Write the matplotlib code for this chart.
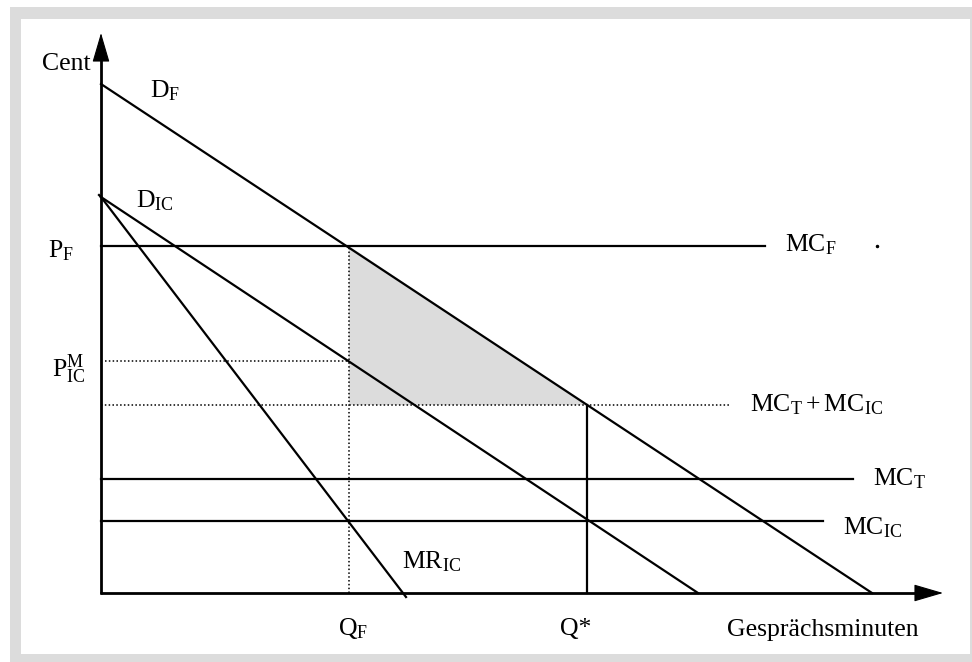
import matplotlib.pyplot as plt
from matplotlib.patches import Rectangle, Polygon

plt.rcParams['font.family'] = ['Liberation Serif', 'DejaVu Serif']
plt.rcParams['mathtext.fontset'] = 'custom'
plt.rcParams['mathtext.rm'] = 'Liberation Serif'
plt.rcParams['mathtext.it'] = 'Liberation Serif:italic'

# curves: (quantity, price) end points in chart units (origin = axes corner)
demand_f = ([0, 771], [509, 0])
demand_ic = ([0, 597], [396, 0])
mr_ic = ([0, 305], [396, -4])

# price levels
p_f = 347
p_ic_m = 232
mc_t_ic = 188
mc_t = 114
mc_ic = 72

# quantities
q_f = 248
q_star = 486

# horizontal extent of each level line
p_f_end = 664
p_ic_m_range = (4, q_f)
mc_t_ic_end = 628
mc_t_end = 752
mc_ic_end = 722

# axis lengths
y_top = 560
x_right = 842

W, H = 972, 662
fig = plt.figure(figsize=(W / 100, H / 100), dpi=100)
fig.patch.set_facecolor('white')

# grey frame around the drawing
fig.patches.append(Rectangle((10 / W, 0), 962 / W, 655 / H, transform=fig.transFigure,
                             facecolor='#dcdcdc', edgecolor='none', zorder=-10))
fig.patches.append(Rectangle((21 / W, 8 / H), 949 / W, 635 / H, transform=fig.transFigure,
                             facecolor='white', edgecolor='none', zorder=-9))

ax = fig.add_axes([0, 0, 1, 1])
ax.set_zorder(1)
ax.set_xlim(-101, W - 101)
ax.set_ylim(593 - H, 593)
ax.axis('off')
ax.patch.set_alpha(0)

# shaded welfare triangle
ax.add_patch(Polygon([(q_f, p_f), (q_f, mc_t_ic), (q_star, mc_t_ic)],
                     closed=True, facecolor='#dcdcdc', edgecolor='none', zorder=1))

lw = 1.6
ax.plot(*demand_f, color='black', lw=lw, zorder=3)
ax.plot(*demand_ic, color='black', lw=lw, zorder=3)
ax.plot(*mr_ic, color='black', lw=lw, zorder=3)
ax.plot([-2, 0], [398, 396], color='black', lw=lw, zorder=3)

ax.plot([0, p_f_end], [p_f, p_f], color='black', lw=lw, zorder=3)
ax.plot([0, mc_t_end], [mc_t, mc_t], color='black', lw=lw, zorder=3)
ax.plot([0, mc_ic_end], [mc_ic, mc_ic], color='black', lw=lw, zorder=3)
ax.plot([q_star, q_star], [0, mc_t_ic], color='black', lw=lw, zorder=3)

dot = dict(color='black', lw=1.1, linestyle=(0, (1, 1.5)), zorder=2)
ax.plot(p_ic_m_range, [p_ic_m, p_ic_m], **dot)
ax.plot([0, mc_t_ic_end], [mc_t_ic, mc_t_ic], **dot)
ax.plot([q_f, q_f], [0, p_f], **dot)

ax.plot([776], [347], marker='o', markersize=1.5, color='black')

# axes with arrows
ax.plot([0, 0], [-1, y_top - 10], color='black', lw=2.0, zorder=4, solid_capstyle='butt')
ax.plot([-1, x_right - 10], [0, 0], color='black', lw=2.0, zorder=4, solid_capstyle='butt')
arrow = dict(arrowstyle='-|>,head_length=0.75,head_width=0.22', color='black',
             lw=0.8, mutation_scale=25, shrinkA=0, shrinkB=0)
ax.annotate('', xy=(0, y_top), xytext=(0, y_top - 25), arrowprops=arrow, zorder=4)
ax.annotate('', xy=(x_right, 0), xytext=(x_right - 25, 0), arrowprops=arrow, zorder=4)

fs = 18.5
labels = [
    (-59, 523, 'Cent'),
    (49, 496, r'$\mathrm{D}_{\mathrm{F}}$'),
    (35, 386, r'$\mathrm{D}_{\mathrm{IC}}$'),
    (-53, 336, r'$\mathrm{P}_{\mathrm{F}}$'),
    (-49, 216, r'$\mathrm{P}_{\mathrm{IC}}^{\mathrm{M}}$'),
    (684, 342, r'$\mathrm{MC}_{\mathrm{F}}$'),
    (649, 182, r'$\mathrm{MC}_{\mathrm{T}} + \mathrm{MC}_{\mathrm{IC}}$'),
    (772, 108, r'$\mathrm{MC}_{\mathrm{T}}$'),
    (742, 59, r'$\mathrm{MC}_{\mathrm{IC}}$'),
    (301, 25, r'$\mathrm{MR}_{\mathrm{IC}}$'),
    (237, -42, r'$\mathrm{Q}_{\mathrm{F}}$'),
    (459, -42, 'Q*'),
    (626, -43, 'Gesprächsminuten'),
]
for x, y, s in labels:
    ax.text(x, y, s, fontsize=fs, ha='left', va='baseline', zorder=5)

fig.savefig('out.png', dpi=100)
